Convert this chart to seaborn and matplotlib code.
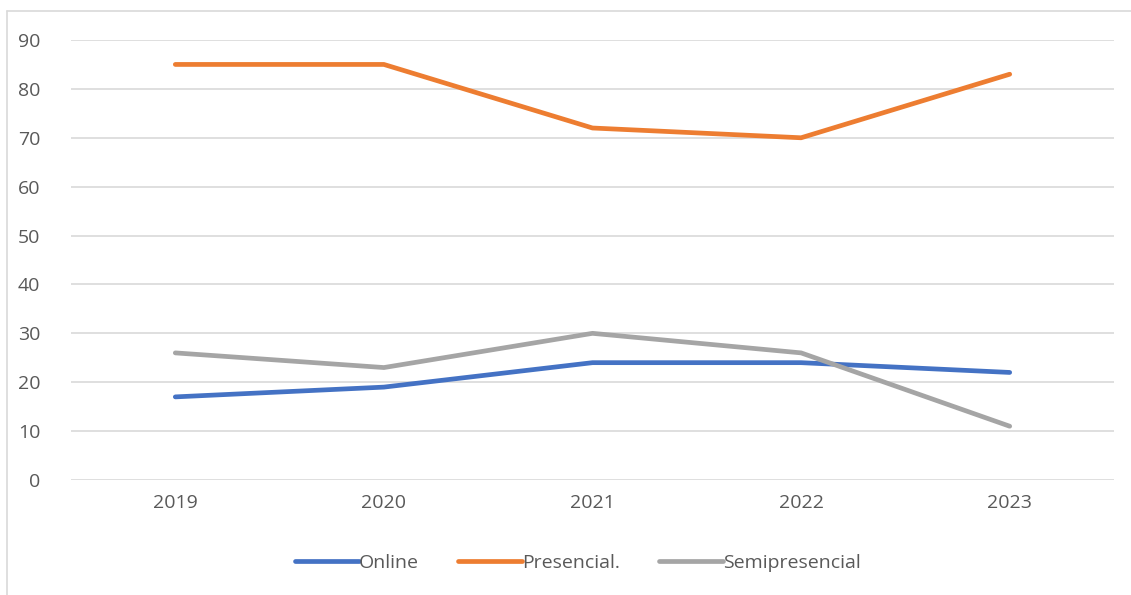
import pandas as pd
import matplotlib
matplotlib.use("Agg")
import matplotlib.pyplot as plt
import seaborn as sns
from matplotlib.lines import Line2D

years = ["2019", "2020", "2021", "2022", "2023"]
online = [17, 19, 24, 24, 22]
presencial = [85, 85, 72, 70, 83]
semipresencial = [26, 23, 30, 26, 11]

series_names = ["Online", "Presencial.", "Semipresencial"]
colors = ["#4472C4", "#ED7D31", "#A5A5A5"]

df = pd.DataFrame({"year": years, "Online": online,
                   "Presencial.": presencial, "Semipresencial": semipresencial})
long = df.melt(id_vars="year", var_name="serie", value_name="valor")

sns.set_theme(style="white")
plt.rcParams["font.family"] = ["Open Sans", "DejaVu Sans"]

fig = plt.figure(figsize=(11.31, 5.95), dpi=100)
ax = fig.add_axes([71 / 1131, 1 - 480 / 595, (1114 - 71) / 1131, 440 / 595])

sns.lineplot(data=long, x="year", y="valor", hue="serie", hue_order=series_names,
             palette=colors, linewidth=3.4, ax=ax, sort=False,
             solid_capstyle="round", legend=False)

ax.set_xlim(-0.5, 4.5)
ax.set_ylim(0, 90)
ax.set_yticks(range(0, 91, 10))
ax.grid(axis="y", color="#D9D9D9", linewidth=1.2)
ax.set_axisbelow(True)
for s in ax.spines.values():
    s.set_visible(False)
ax.set_xlabel("")
ax.set_ylabel("")
ax.tick_params(axis="both", length=0, labelsize=14, colors="#595959")
ax.tick_params(axis="y", pad=22)
ax.tick_params(axis="x", pad=10)

handles = [Line2D([0], [0], color=c, linewidth=3.4, solid_capstyle="round") for c in colors]
fig.legend(handles, series_names, loc="center", bbox_to_anchor=(578 / 1131, 1 - 563 / 595),
           ncol=3, frameon=False, fontsize=14, handlelength=3.3, handletextpad=0.0,
           columnspacing=2.0, labelcolor="#595959")

# chart border (only top and left visible in the crop)
fig.add_artist(Line2D([7 / 1131, 1.0], [1 - 11 / 595, 1 - 11 / 595],
                      transform=fig.transFigure, color="#D9D9D9", linewidth=1.2))
fig.add_artist(Line2D([7 / 1131, 7 / 1131], [0.0, 1 - 11 / 595],
                      transform=fig.transFigure, color="#D9D9D9", linewidth=1.2))

fig.savefig("out.png", dpi=100, facecolor="white")
